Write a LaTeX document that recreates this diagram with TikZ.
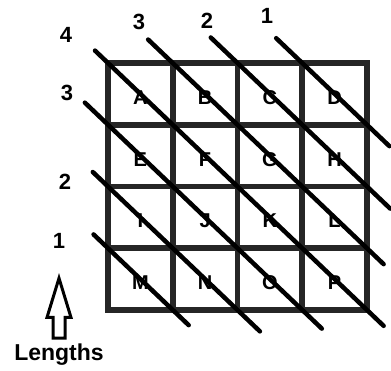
\documentclass[tikz,border=0pt]{standalone}
\usepackage{fontspec}
\setmainfont{Liberation Sans}
\usetikzlibrary{shapes.arrows}
\begin{document}
\begin{tikzpicture}[
    x=1pt, y=-1pt,
    cell/.style={rectangle, draw=black!85, line width=5.5pt, minimum width=64.75pt, minimum height=61.75pt, inner sep=0pt, outer sep=0pt, text height=21pt, text depth=0pt, font=\bfseries\fontsize{20}{20}\selectfont},
    len/.style={font=\bfseries\fontsize{22}{22}\selectfont},
    diag/.style={line width=4.5pt, line cap=round}
]
\useasboundingbox (0,0) rectangle (391,370);

% Grid of cells
\node[cell] (A) at (140.4,93.9) {A};
\node[cell] (B) at (205.1,93.9) {B};
\node[cell] (C) at (269.9,93.9) {C};
\node[cell] (D) at (334.6,93.9) {D};
\node[cell] (E) at (140.4,155.6) {E};
\node[cell] (F) at (205.1,155.6) {F};
\node[cell] (G) at (269.9,155.6) {G};
\node[cell] (H) at (334.6,155.6) {H};
\node[cell] (I) at (140.4,217.4) {I};
\node[cell] (J) at (205.1,217.4) {J};
\node[cell] (K) at (269.9,217.4) {K};
\node[cell] (L) at (334.6,217.4) {L};
\node[cell] (M) at (140.4,279.1) {M};
\node[cell] (N) at (205.1,279.1) {N};
\node[cell] (O) at (269.9,279.1) {O};
\node[cell] (P) at (334.6,279.1) {P};

% Length labels
\node[len] (top4) at (66,35) {4};
\node[len] (top3) at (139,22) {3};
\node[len] (top2) at (207,21) {2};
\node[len] (top1) at (267,16) {1};
\node[len] (left3) at (67,93) {3};
\node[len] (left2) at (65,182) {2};
\node[len] (left1) at (59,241) {1};

% Diagonals
\draw[diag, shorten <=-18pt, shorten >=-23pt] (A.north west) -- (P.south east);
\draw[diag, shorten <=-34pt, shorten >=-23pt] (B.north west) -- (L.south east);
\draw[diag, shorten <=-37pt, shorten >=-32pt] (C.north west) -- (H.south east);
\draw[diag, shorten <=-36pt, shorten >=-31pt] (D.north west) -- (D.south east);
\draw[diag, shorten <=-32pt, shorten >=-27pt] (E.north west) -- (O.south east);
\draw[diag, shorten <=-21pt, shorten >=-31pt] (I.north west) -- (N.south east);
\draw[diag, shorten <=-20pt, shorten >=-22pt] (M.north west) -- (M.south east);

% Legend
\node[draw, single arrow, rotate=90, line width=3pt, minimum height=60pt, inner sep=4.5pt, single arrow head extend=6pt, single arrow tip angle=34] (up) at (59,318) {};
\node[font=\bfseries\fontsize{23}{23}\selectfont, anchor=base] (lengths) at (59,360) {Lengths};
\end{tikzpicture}
\end{document}
